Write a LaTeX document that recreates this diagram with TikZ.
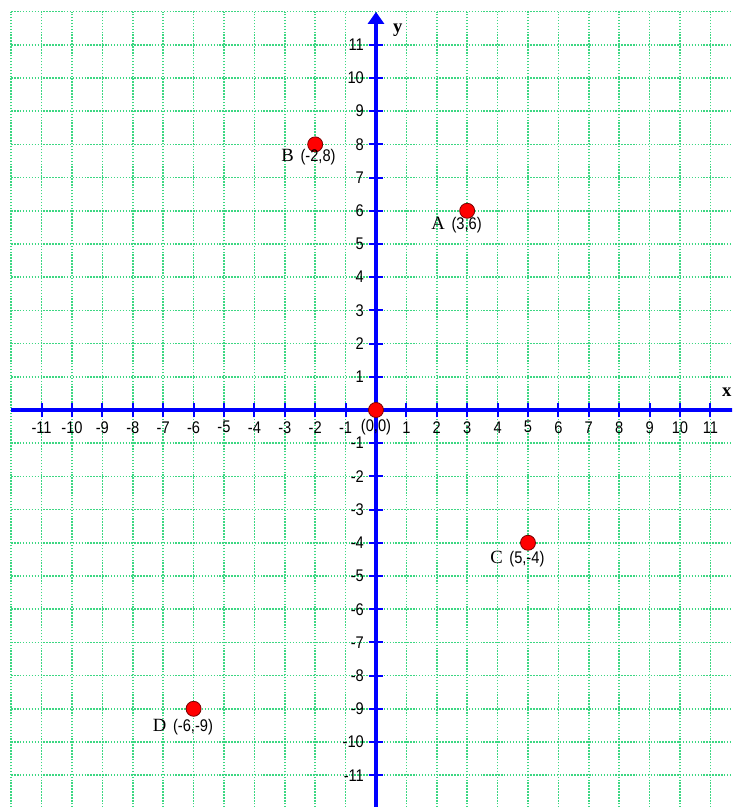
\documentclass[tikz,border=0pt]{standalone}
\usepackage{fontspec}
\usepackage{graphicx}
\setmainfont{Liberation Serif}
\newfontfamily\lsans{Liberation Sans}
\usetikzlibrary{arrows.meta}
\definecolor{gridgreen}{RGB}{60,215,130}
\definecolor{axisblue}{RGB}{0,0,255}
\definecolor{ptred}{RGB}{255,0,0}
\definecolor{ptrim}{RGB}{120,0,0}
\newcommand{\tlab}[1]{\scalebox{1}[1.15]{#1}}
\begin{document}
\begin{tikzpicture}[x=22.8pt,y=24.9pt,
  gridline/.style={gridgreen, line width=1.1pt, dash pattern=on 1.1pt off 1.1pt},
  axisline/.style={axisblue, line width=2.3pt},
  tickmark/.style={axisblue, line width=1.5pt},
  ticklabel/.style={font=\lsans\fontsize{11}{11}\selectfont, inner sep=0pt},
  ptdot/.style={circle, fill=ptred, draw=ptrim, line width=0.6pt, minimum size=11.25pt, inner sep=0pt},
  ptlabel/.style={anchor=west, inner sep=0pt},
  axisname/.style={font=\bfseries\fontsize{14}{14}\selectfont, inner sep=0pt}]
\useasboundingbox (-12.368,-11.958) rectangle (11.711,12.349);
\clip (-12.368,-11.958) rectangle (11.711,12.349);
% grid
\foreach \i in {-12,...,12} {
  \draw[gridline] (\i,-12.5) -- (\i,12);
  \draw[gridline] (-12,\i) -- (12.5,\i);
}
% axes
\coordinate (xl) at (-12,0);
\coordinate (xr) at (12.4,0);
\coordinate (yb) at (0,-12.5);
\coordinate (yt) at (0,11.99);
\draw[axisline,-{Triangle[width=12pt,length=9pt]}] (xl) -- (xr);
\draw[axisline,-{Triangle[width=12pt,length=9pt]}] (yb) -- (yt);
% ticks and labels
\foreach \i in {-11,...,-1,1,2,...,11} {
  \coordinate (tx\i) at (\i,0);
  \coordinate (ty\i) at (0,\i);
  \draw[tickmark] ([yshift=-5.6pt]tx\i) -- ([yshift=5.6pt]tx\i);
  \draw[tickmark] ([xshift=-5.6pt]ty\i) -- ([xshift=5.6pt]ty\i);
  \node[ticklabel] (lx\i) at (\i,-0.52) {\tlab{\i}};
  \node[ticklabel, anchor=east] (ly\i) at (-0.39,\i) {\tlab{\i}};
}
\node[ticklabel] (lorigin) at (0,-0.52) {\tlab{(0,0)}};
\node[axisname] (ylab) at (0.72,11.45) {y};
\node[axisname, anchor=east] (xlab) at (11.70,0.54) {x};
% points
\node[ptdot] (O) at (0,0) {};
\node[ptdot] (A) at (3,6) {};
\node[ptdot] (B) at (-2,8) {};
\node[ptdot] (C) at (5,-4) {};
\node[ptdot] (D) at (-6,-9) {};
\newcommand{\plab}[2]{{\fontsize{14}{14}\selectfont #1}\hspace{5pt}{\lsans\fontsize{11}{11}\selectfont\tlab{#2}}}
\node[ptlabel] (Alab) at ([xshift=-27pt,yshift=-10.5pt]A.center) {\plab{A}{(3,6)}};
\node[ptlabel] (Blab) at ([xshift=-25.5pt,yshift=-9.75pt]B.center) {\plab{B}{(-2,8)}};
\node[ptlabel] (Clab) at ([xshift=-28.5pt,yshift=-12pt]C.center) {\plab{C}{(5,-4)}};
\node[ptlabel] (Dlab) at ([xshift=-30.75pt,yshift=-13.5pt]D.center) {\plab{D}{(-6,-9)}};
\end{tikzpicture}
\end{document}
